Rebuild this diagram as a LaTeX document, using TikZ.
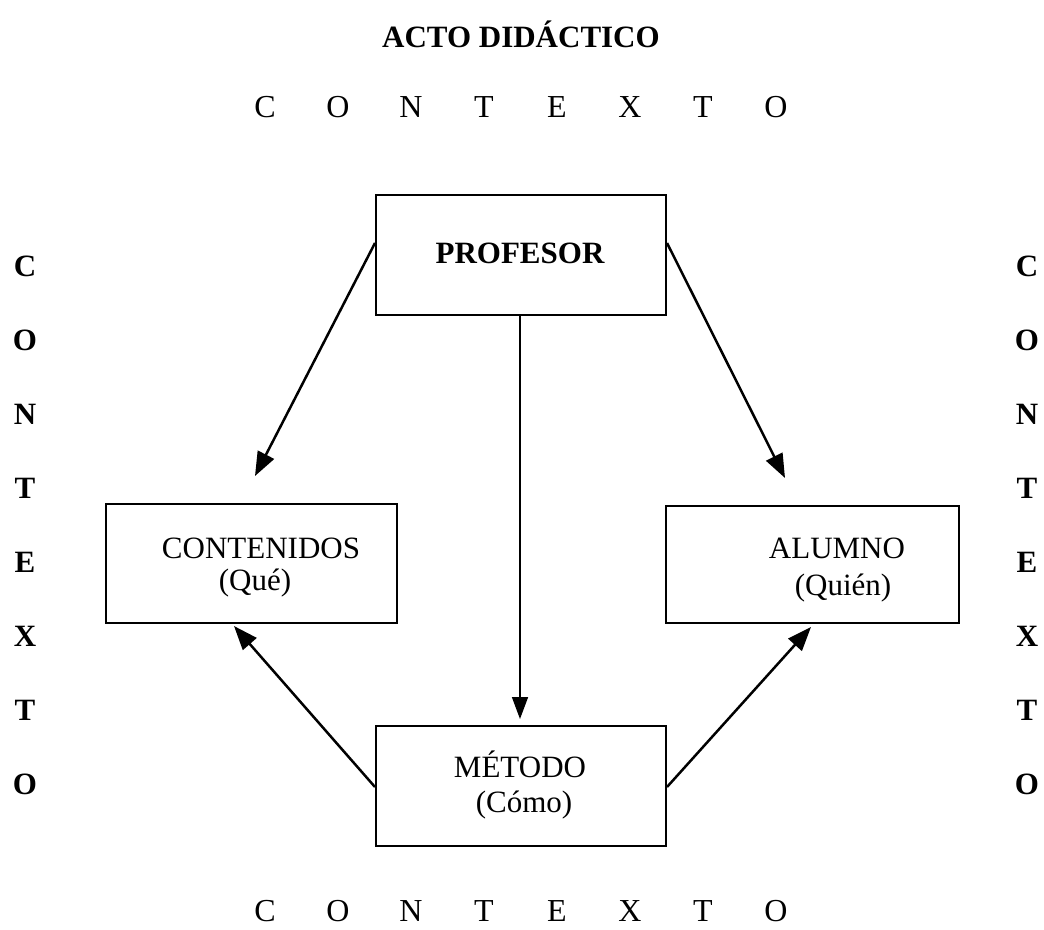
\documentclass[tikz,border=0pt]{standalone}
\usepackage{fontspec}
\setmainfont{Liberation Serif}
\usetikzlibrary{arrows.meta}
\begin{document}
\begin{tikzpicture}[x=1pt,y=-1pt,
  box/.style={draw, line width=2pt, inner sep=0pt},
  txt/.style={anchor=base, inner sep=0pt, font=\fontsize{31}{34}\selectfont},
  ctxt/.style={anchor=base, inner sep=0pt, font=\fontsize{32}{34}\selectfont},
  btxt/.style={anchor=base, inner sep=0pt, font=\fontsize{31}{34}\selectfont\bfseries},
  arr/.style={line width=2.5pt, -{Triangle[length=24pt,width=18pt]}},
  arrthin/.style={line width=1.6pt, -{Triangle[length=22pt,width=16pt]}}
]
\useasboundingbox (0,0) rectangle (1044,929);
\fill[white] (0,0) rectangle (1044,929);

% title
\node[btxt] (title) at (521,47) {ACTO DIDÁCTICO};

% top and bottom CONTEXTO
\foreach \l [count=\i] in {C,O,N,T,E,X,T,O}{
  \node[ctxt] (top\i) at ({265+73*(\i-1)},117) {\l};
  \node[ctxt] (bot\i) at ({265+73*(\i-1)},921) {\l};
}
% left and right columns
\foreach \l [count=\i] in {C,O,N,T,E,X,T,O}{
  \node[btxt] (lft\i) at (25,{276+74*(\i-1)}) {\l};
  \node[btxt] (rgt\i) at (1027,{276+74*(\i-1)}) {\l};
}

% boxes
\node[box, minimum width=290pt, minimum height=120pt] (prof) at (521,255) {};
\node[box, minimum width=291pt, minimum height=119pt] (cont) at (251.5,563.5) {};
\node[box, minimum width=293pt, minimum height=117pt] (alum) at (812.5,564.5) {};
\node[box, minimum width=290pt, minimum height=120pt] (met) at (521,786) {};

% box texts
\node[btxt] (proft) at (520,263) {PROFESOR};
\node[txt] (contt1) at (261,558) {CONTENIDOS};
\node[txt] (contt2) at (255,590) {(Qué)};
\node[txt] (alumt1) at (837,558) {ALUMNO};
\node[txt] (alumt2) at (843,595) {(Quién)};
\node[txt] (mett1) at (520,777) {MÉTODO};
\node[txt] (mett2) at (524,812) {(Cómo)};

% arrow end points
\coordinate (c1) at (255,476);
\coordinate (c2) at (785,478);
\coordinate (c3) at (520,719);
\coordinate (c4) at (234,626);
\coordinate (c5) at (811,627);

\draw[arr] (prof.west |- 0,243) -- (c1);
\draw[arr] (prof.east |- 0,243) -- (c2);
\draw[arrthin] (520,0 |- prof.south) -- (c3);
\draw[arr] (met.west |- 0,787) -- (c4);
\draw[arr] (met.east |- 0,787) -- (c5);
\end{tikzpicture}
\end{document}
